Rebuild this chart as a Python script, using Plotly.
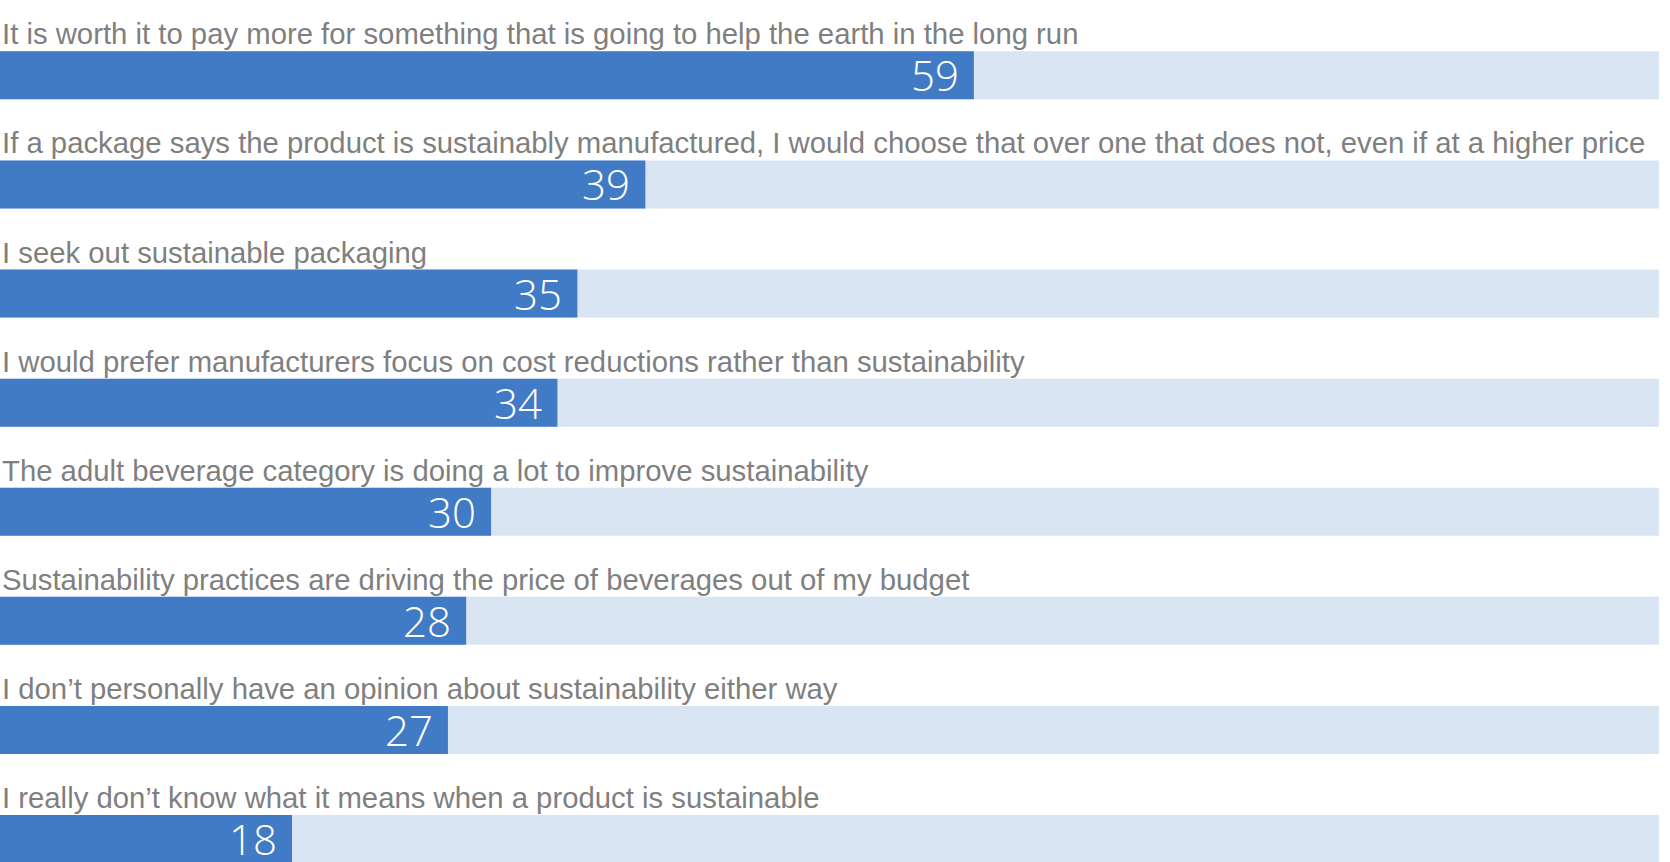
import plotly.graph_objects as go

categories = [
    "It is worth it to pay more for something that is going to help the earth in the long run",
    "If a package says the product is sustainably manufactured, I would choose that over one that does not, even if at a higher price",
    "I seek out sustainable packaging",
    "I would prefer manufacturers focus on cost reductions rather than sustainability",
    "The adult beverage category is doing a lot to improve sustainability",
    "Sustainability practices are driving the price of beverages out of my budget",
    "I don\u2019t personally have an opinion about sustainability either way",
    "I really don\u2019t know what it means when a product is sustainable",
]
values = [58.7, 38.9, 34.8, 33.6, 29.6, 28.1, 27.0, 17.6]
full_scale = [100] * len(values)

pos = list(range(len(categories)))
BAR_W = 0.44

fig = go.Figure()
fig.add_trace(go.Bar(x=full_scale, y=pos, orientation="h", width=BAR_W,
                     marker=dict(color="#DAE5F4", line=dict(width=0)),
                     hoverinfo="skip", showlegend=False))
fig.add_trace(go.Bar(x=values, y=pos, orientation="h", width=BAR_W,
                     marker=dict(color="#427BC5", line=dict(width=0)),
                     showlegend=False))

annotations = []
for i, (c, v) in enumerate(zip(categories, values)):
    annotations.append(dict(x=0, y=i - BAR_W / 2, xref="x", yref="y", text=c,
                            showarrow=False, xanchor="left", yanchor="bottom",
                            yshift=-1,
                            font=dict(family="Liberation Sans, Arial, sans-serif",
                                      size=29.3, color="#7F7F7F")))
    annotations.append(dict(x=v, y=i, xref="x", yref="y", text=f"{v:.0f}",
                            showarrow=False, xanchor="right", yanchor="middle",
                            xshift=-14, yshift=1, borderpad=0, height=42,
                            valign="middle",
                            font=dict(family="Open Sans, sans-serif", size=42,
                                      color="#FFFFFF", weight=300)))

fig.update_layout(
    width=1670, height=862,
    margin=dict(l=0, r=0, t=0, b=0),
    paper_bgcolor="white", plot_bgcolor="white",
    barmode="overlay",
    xaxis=dict(range=[0, 100.66], visible=False, fixedrange=True),
    yaxis=dict(range=[7.21, -0.69], visible=False, fixedrange=True),
    annotations=annotations,
)

fig.write_html("out.html")
